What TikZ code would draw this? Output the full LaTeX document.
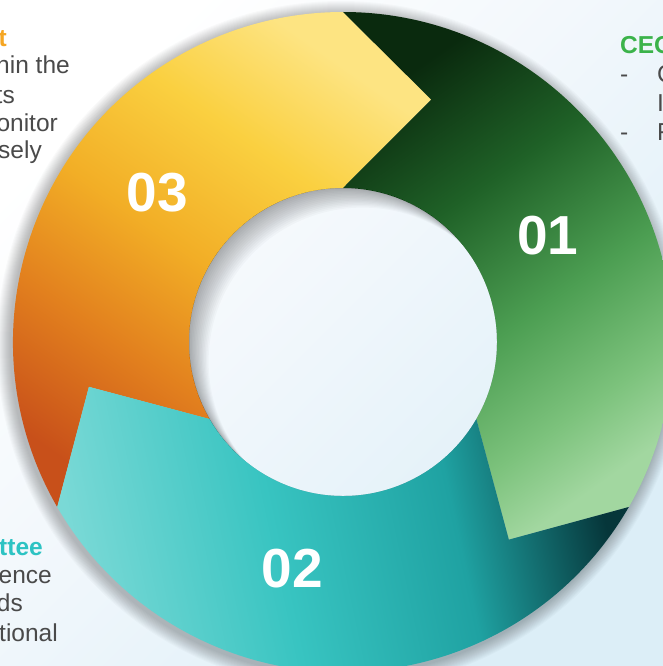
\documentclass[tikz,border=0pt]{standalone}
\usepackage{fontspec}
\setmainfont{Liberation Sans}
\usetikzlibrary{calc}

\definecolor{txtgrey}{HTML}{4A4A4A}
\definecolor{orangetxt}{HTML}{F5A623}
\definecolor{greentxt}{HTML}{3BB34A}
\definecolor{tealtxt}{HTML}{2DC3C3}
\definecolor{bgA}{HTML}{FFFFFF}
\definecolor{bgB}{HTML}{F3F8FC}
\definecolor{bgC}{HTML}{DCEEF7}
\definecolor{ydark}{HTML}{C8501A}
\definecolor{yor}{HTML}{E2801E}
\definecolor{ymid}{HTML}{F2AE26}
\definecolor{yyel}{HTML}{FAD040}
\definecolor{ypale}{HTML}{FDE482}
\definecolor{gdark}{HTML}{0A2A0E}
\definecolor{gmidA}{HTML}{1F6127}
\definecolor{gmidB}{HTML}{4C9E52}
\definecolor{glightA}{HTML}{7CC27C}
\definecolor{glightB}{HTML}{A2D7A0}
\definecolor{tlight}{HTML}{7AD9D6}
\definecolor{tmidA}{HTML}{38C4C1}
\definecolor{tmidB}{HTML}{1FA2A2}
\definecolor{tdark}{HTML}{06363A}

\pgfdeclarehorizontalshading{bgsh}{100bp}{color(0bp)=(bgA); color(25bp)=(bgA); color(45bp)=(bgB); color(75bp)=(bgC); color(100bp)=(bgC)}
\pgfdeclarehorizontalshading{yelsh}{100bp}{color(0bp)=(ydark); color(25bp)=(ydark); color(38bp)=(yor); color(50bp)=(ymid); color(63bp)=(yyel); color(75bp)=(ypale); color(100bp)=(ypale)}
\pgfdeclarehorizontalshading{grnsh}{100bp}{color(0bp)=(gdark); color(25bp)=(gdark); color(40bp)=(gmidA); color(55bp)=(gmidB); color(67bp)=(glightA); color(75bp)=(glightB); color(100bp)=(glightB)}
\pgfdeclarehorizontalshading{tealsh}{100bp}{color(0bp)=(tlight); color(25bp)=(tlight); color(44bp)=(tmidA); color(61bp)=(tmidB); color(75bp)=(tdark); color(100bp)=(tdark)}

\tikzset{
  bodytxt/.style={font=\fontsize{24.5}{29}\selectfont, text=txtgrey, inner sep=0pt},
  headtxt/.style={font=\fontsize{24.5}{29}\selectfont\bfseries, inner sep=0pt},
  numtxt/.style={font=\fontsize{55}{55}\selectfont\bfseries, text=white, inner sep=0pt, anchor=center}
}

\begin{document}
\begin{tikzpicture}[x=1pt,y=1pt]
\useasboundingbox (0,0) rectangle (663,-666);
\shade[shading=bgsh, shading angle=-45] (0,0) rectangle (663,-666);
\coordinate (C) at (343,-342);
\begin{scope}[shift={(C)}]
  % outer soft shadow
  \foreach \k in {1,...,14}
    \fill[black, opacity=0.02, even odd rule] (-2,-3) circle ({330+\k}) (0,0) circle (154);
  % 03 yellow arrow
  \shade[shading=yelsh, shading angle=55]
    (210:330) arc[start angle=210, end angle=90, radius=330] -- (70:258) -- (90:154)
    arc[start angle=90, end angle=210, radius=154] -- (190:258) -- cycle;
  % 01 green arrow
  \shade[shading=grnsh, shading angle=-55]
    (90:330) arc[start angle=90, end angle=-30, radius=330] -- (-50:258) -- (-30:154)
    arc[start angle=-30, end angle=90, radius=154] -- (70:258) -- cycle;
  % 02 teal arrow
  \shade[shading=tealsh, shading angle=12]
    (-30:330) arc[start angle=-30, end angle=-150, radius=330] -- (-170:258) -- (-150:154)
    arc[start angle=-150, end angle=-30, radius=154] -- (-50:258) -- cycle;
  % inner shadow of the hole
  \begin{scope}
    \clip (0,0) circle (154);
    \foreach \k in {1,...,14}
      \fill[black, opacity=0.022, even odd rule] (-200,-200) rectangle (200,200) ({1.4*\k},{-1.4*\k}) circle (154);
  \end{scope}
\end{scope}

% numbers
\node[numtxt] (n03) at (157.5,-192.5) {03};
\node[numtxt] (n01) at (548,-236) {01};
\node[numtxt] (n02) at (292.5,-568.5) {02};

% left top text
\node[headtxt, text=orangetxt, anchor=base east] (lt1) at (7,-46.7) {t};
\node[bodytxt, anchor=base east] (lt2) at (70,-73.3) {hin the};
\node[bodytxt, anchor=base east] (lt3) at (15,-103) {ts};
\node[bodytxt, anchor=base east] (lt4) at (58,-131.7) {onitor};
\node[bodytxt, anchor=base east] (lt5) at (42,-158) {sely};

% right top text
\node[headtxt, text=greentxt, anchor=base west] (rt1) at (620,-54) {CEO};
\node[bodytxt, anchor=base west] (rt2a) at (620,-83) {-};
\node[bodytxt, anchor=base west] (rt2b) at (657,-83) {C};
\node[bodytxt, anchor=base west] (rt3) at (657,-111.7) {I};
\node[bodytxt, anchor=base west] (rt4a) at (620,-140) {-};
\node[bodytxt, anchor=base west] (rt4b) at (657,-140) {F};

% left bottom text
\node[headtxt, text=tealtxt, anchor=base east] (lb1) at (43,-555) {ttee};
\node[bodytxt, anchor=base east] (lb2) at (52,-583) {ence};
\node[bodytxt, anchor=base east] (lb3) at (23,-611.7) {ds};
\node[bodytxt, anchor=base east] (lb4) at (58,-641.7) {tional};
\end{tikzpicture}
\end{document}
